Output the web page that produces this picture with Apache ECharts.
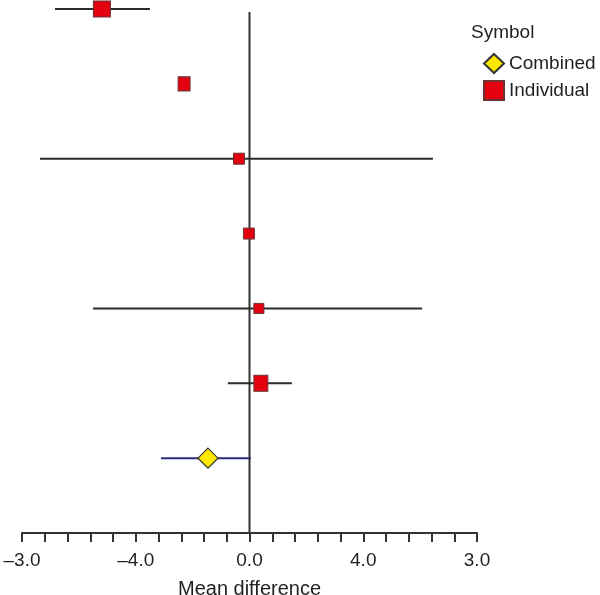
<!DOCTYPE html>
<html>
<head>
<meta charset="utf-8">
<script src="https://cdn.jsdelivr.net/npm/echarts@6/dist/echarts.min.js"></script>
<style>
html,body{margin:0;padding:0;background:#fff;}
#chart{width:600px;height:595px;}
</style>
</head>
<body>
<div id="chart"></div>
<script>
// ---- data ----
const rows = [1, 2, 3, 4, 5, 6, 7];
const rowType = ['Individual','Individual','Individual','Individual','Individual','Individual','Combined'];
const meanDiff = [-5.19, -2.30, -0.37, -0.02, 0.33, 0.40, -1.46];
const ciLow    = [-6.84, -2.30, -7.37, -0.02, -5.50, -0.76, -3.11];
const ciHigh   = [-3.50, -2.30, 6.45, -0.02, 6.07, 1.49, 0.05];
const markW    = [17, 12, 11, 11, 10, 14, 20];
const markH    = [16, 14, 11, 11, 10, 16, 20];
const tickLabels = ['\u20133.0', '\u20134.0', '0.0', '4.0', '3.0'];
const refLine = [[0, 1.04], [0, 8]];

const FONT = 'Liberation Sans, Arial, sans-serif';
const TXT = '#231f20';

const individual = [], combined = [], ciData = [];
rows.forEach((r, i) => {
  const item = { value: [meanDiff[i], r], symbolSize: [markW[i], markH[i]] };
  if (rowType[i] === 'Combined') combined.push(item); else individual.push(item);
  ciData.push([ciLow[i], ciHigh[i], r, rowType[i] === 'Combined' ? 1 : 0]);
});

const chart = echarts.init(document.getElementById('chart'));
chart.setOption({
  animation: false,
  backgroundColor: '#fff',
  title: {
    text: 'Symbol', left: 466, top: 18,
    textStyle: { fontFamily: FONT, fontSize: 19, fontWeight: 'normal', color: TXT }
  },
  legend: {
    orient: 'vertical', left: 483, top: 53, padding: 0,
    itemWidth: 20, itemHeight: 19, itemGap: 6,
    data: [
      { name: 'Combined', icon: 'diamond' },
      { name: 'Individual', icon: 'rect', itemStyle: {} }
    ],
    textStyle: { fontFamily: FONT, fontSize: 19, color: TXT }
  },
  grid: { left: 22, right: 123, top: 0, bottom: 62, outerBoundsMode: 'none', containLabel: false },
  xAxis: {
    type: 'value', min: -8, max: 8, interval: 0.8,
    name: 'Mean difference', nameLocation: 'middle', nameGap: 46,
    nameTextStyle: { fontFamily: FONT, fontSize: 20, color: TXT },
    axisLine: { show: true, lineStyle: { color: '#333', width: 2 } },
    axisTick: { show: true, inside: false, length: 9, lineStyle: { color: '#333', width: 2 } },
    splitLine: { show: false },
    axisLabel: {
      margin: 18, fontFamily: FONT, fontSize: 19, color: TXT,
      showMinLabel: true, showMaxLabel: true, hideOverlap: false,
      formatter: function (v) {
        const idx = Math.round((v + 8) / 0.8);
        return idx % 5 === 0 ? tickLabels[idx / 5] : '';
      }
    }
  },
  yAxis: { type: 'value', inverse: true, min: 0.88, max: 8, show: false },
  series: [
    {
      type: 'line', data: refLine, symbol: 'none', silent: true, z: 1,
      lineStyle: { color: '#333', width: 2 }
    },
    {
      type: 'custom', z: 2, silent: true,
      data: ciData,
      renderItem: function (params, api) {
        const p1 = api.coord([api.value(0), api.value(2)]);
        const p2 = api.coord([api.value(1), api.value(2)]);
        if (Math.abs(p2[0] - p1[0]) < 1) return null;
        return {
          type: 'line',
          shape: { x1: p1[0], y1: p1[1], x2: p2[0], y2: p2[1] },
          style: { stroke: api.value(3) === 1 ? '#2b2b78' : '#2a2a2a', lineWidth: 2 }
        };
      }
    },
    {
      name: 'Individual', type: 'scatter', symbol: 'rect', z: 5,
      data: individual,
      itemStyle: { color: '#e3000f', borderColor: '#6b3434', borderWidth: 1, opacity: 1 }
    },
    {
      name: 'Combined', type: 'scatter', symbol: 'diamond', z: 5,
      data: combined,
      itemStyle: { color: '#ffe800', borderColor: '#333', borderWidth: 1.2, opacity: 1 }
    }
  ]
});
</script>
</body>
</html>
